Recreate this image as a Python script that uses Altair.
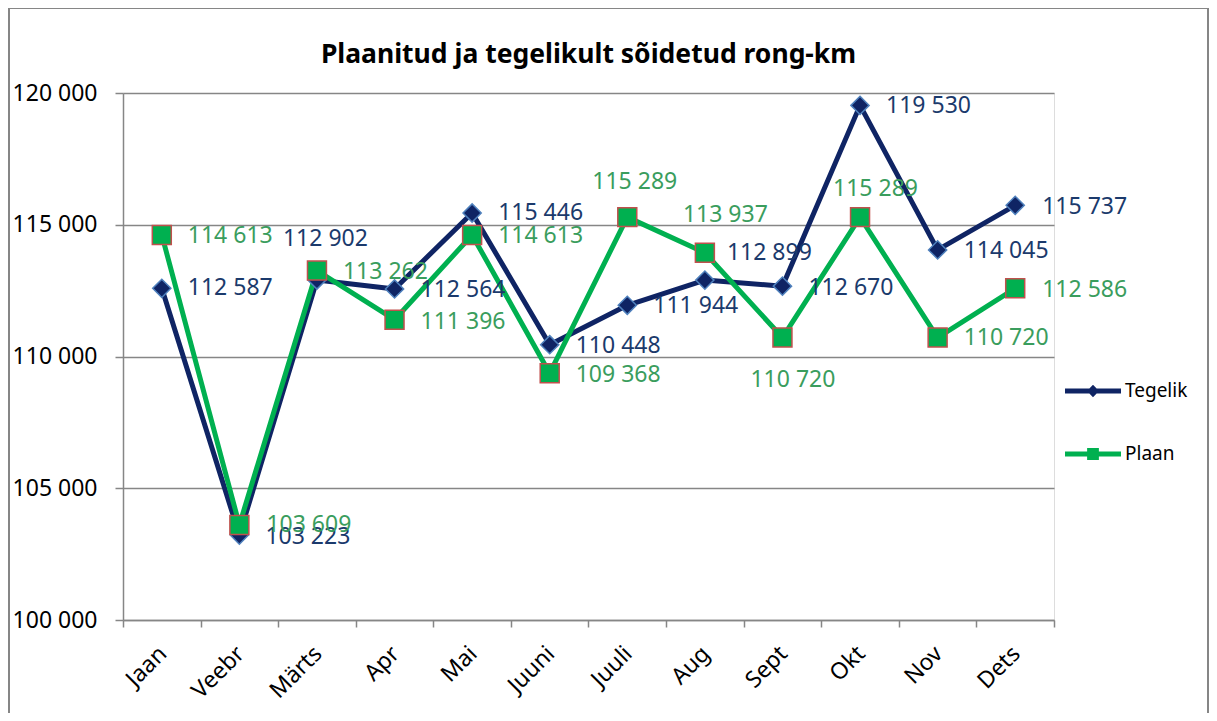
import altair as alt
import pandas as pd

months = ["Jaan", "Veebr", "Märts", "Apr", "Mai", "Juuni", "Juuli", "Aug", "Sept", "Okt", "Nov", "Dets"]
tegelik = [112587, 103223, 112902, 112564, 115446, 110448, 111944, 112899, 112670, 119530, 114045, 115737]
plaan = [114613, 103609, 113262, 111396, 114613, 109368, 115289, 113937, 110720, 115289, 110720, 112586]

# label offsets from their point (pixels, styling of the data labels)
teg_dx = [26, 26, -34, 26, 26, 26, 26, 22, 26, 26, 26, 27]
teg_dy = [0, 2, -41, 1, 0, 1, 1, -27, 2, 1, 1, 2]
plaan_dx = [26, 27, 26, 26, 26, 26, -35, -22, -32, -27, 26, 27]
plaan_dy = [1, 0, 1, 2, 1, 2, -35, -38, 42, -28, 0, 2]

W, H = 931, 527
YMIN, YMAX = 100000, 120000
HALF_BAND = W / len(months) / 2
PX_TO_VAL = (YMAX - YMIN) / H

rows = []
for i, m in enumerate(months):
    rows.append({"month": m, "series": "Tegelik", "v": tegelik[i], "dx": teg_dx[i], "dy": teg_dy[i]})
for i, m in enumerate(months):
    rows.append({"month": m, "series": "Plaan", "v": plaan[i], "dx": plaan_dx[i], "dy": plaan_dy[i]})
df = pd.DataFrame(rows)

NAVY = "#0F2464"
GREEN = "#00B050"
GRID = "#868686"
FONT = "Noto Sans"

xscale = alt.Scale(type="band", paddingInner=0, paddingOuter=0)
xenc = alt.X("month:N", sort=months, scale=xscale,
             axis=alt.Axis(title=None, labelAngle=-45, tickBand="extent", labelFontSize=23,
                           labelFont=FONT, labelColor="black", domainColor=GRID, tickColor=GRID,
                           domainWidth=1.5, tickWidth=1.5, tickSize=7, labelPadding=15,
                           labelOffset=-7, grid=False))
yscale = alt.Scale(domain=[YMIN, YMAX])
yenc = alt.Y("v:Q", scale=yscale,
             axis=alt.Axis(title=None, values=[100000, 105000, 110000, 115000, 120000],
                           labelExpr="replace(format(datum.value, ',d'), ',', ' ')",
                           labelFontSize=23, labelFont=FONT, labelColor="black",
                           domainColor=GRID, tickColor=GRID, gridColor=GRID, gridWidth=1.5,
                           domainWidth=1.5, tickWidth=1.5, tickSize=8, labelPadding=18, grid=True))

base = alt.Chart(df)

def line(series, col):
    return base.transform_filter(f"datum.series == '{series}'").mark_line(
        strokeWidth=5, strokeJoin="round", strokeCap="round", color=col
    ).encode(x=xenc, y=yenc)

teg_line = line("Tegelik", NAVY)
plaan_line = line("Plaan", GREEN)

teg_pts = base.transform_filter("datum.series == 'Tegelik'").mark_point(
    shape="diamond", filled=True, size=330, fill=NAVY, stroke="#4F81BD", strokeWidth=1.5, opacity=1
).encode(x=xenc, y=yenc)

plaan_pts = base.transform_filter("datum.series == 'Plaan'").mark_point(
    shape="square", filled=True, size=360, fill=GREEN, stroke="#C0504D", strokeWidth=1.5, opacity=1
).encode(x=xenc, y=yenc)

def labels(series, col):
    return base.transform_filter(f"datum.series == '{series}'").transform_calculate(
        lab="replace(format(datum.v, ',d'), ',', ' ')",
        ly=f"datum.v - datum.dy * {PX_TO_VAL}",
        lx=f"datum.dx + {HALF_BAND}",
    ).mark_text(align="left", baseline="middle", fontSize=23, font=FONT, color=col).encode(
        x=xenc, y=alt.Y("ly:Q", scale=yscale), text="lab:N",
        xOffset=alt.XOffset("lx:Q", scale=None),
    )

teg_lab = labels("Tegelik", "#1B3A6C")
plaan_lab = labels("Plaan", "#3A9D5D")

TEG_PATH = "M-1,-0.09L-0.13,-0.09L0,-0.22L0.13,-0.09L1,-0.09L1,0.09L0.13,0.09L0,0.22L-0.13,0.09L-1,0.09Z"
PLAAN_PATH = "M-1,-0.09L-0.21,-0.09L-0.21,-0.21L0.21,-0.21L0.21,-0.09L1,-0.09L1,0.09L0.21,0.09L0.21,0.21L-0.21,0.21L-0.21,0.09L-1,0.09Z"

leg = alt.Legend(title=None, orient="none", legendX=942, legendY=270,
                 labelFontSize=19, labelFont=FONT, labelColor="black",
                 symbolSize=3136, rowPadding=25, labelOffset=4, padding=0,
                 symbolStrokeWidth=0, symbolOpacity=1)

legend_layer = base.transform_calculate(hidden="80000").mark_point(
    filled=True, clip=True, opacity=1, size=3136
).encode(
    x=xenc,
    y=alt.Y("hidden:Q", scale=yscale),
    color=alt.Color("series:N", scale=alt.Scale(domain=["Tegelik", "Plaan"], range=[NAVY, GREEN]),
                    legend=leg),
    shape=alt.Shape("series:N", scale=alt.Scale(domain=["Tegelik", "Plaan"], range=[TEG_PATH, PLAAN_PATH]),
                    legend=leg),
)

frame = alt.Chart(alt.Data(values=[{"a": 1}])).mark_rect(
    fill=None, stroke=GRID, strokeWidth=2, clip=False
).encode(x=alt.value(-114), x2=alt.value(1085), y=alt.value(-85), y2=alt.value(720))

chart = alt.layer(frame, teg_line, plaan_line, teg_pts, plaan_pts, teg_lab, plaan_lab, legend_layer).properties(
    width=W, height=H,
    title=alt.Title("Plaanitud ja tegelikult sõidetud rong-km", fontSize=26.5, font=FONT,
                    fontWeight="bold", color="black", offset=0, dy=61, anchor="middle",
                    frame="group"),
    autosize=alt.AutoSizeParams(type="none"),
    padding={"left": 115, "top": 85, "right": 155, "bottom": 93},
).configure_view(stroke=None).configure(font=FONT)

chart.save("out.html", embed_options={"renderer": "svg", "actions": False})
